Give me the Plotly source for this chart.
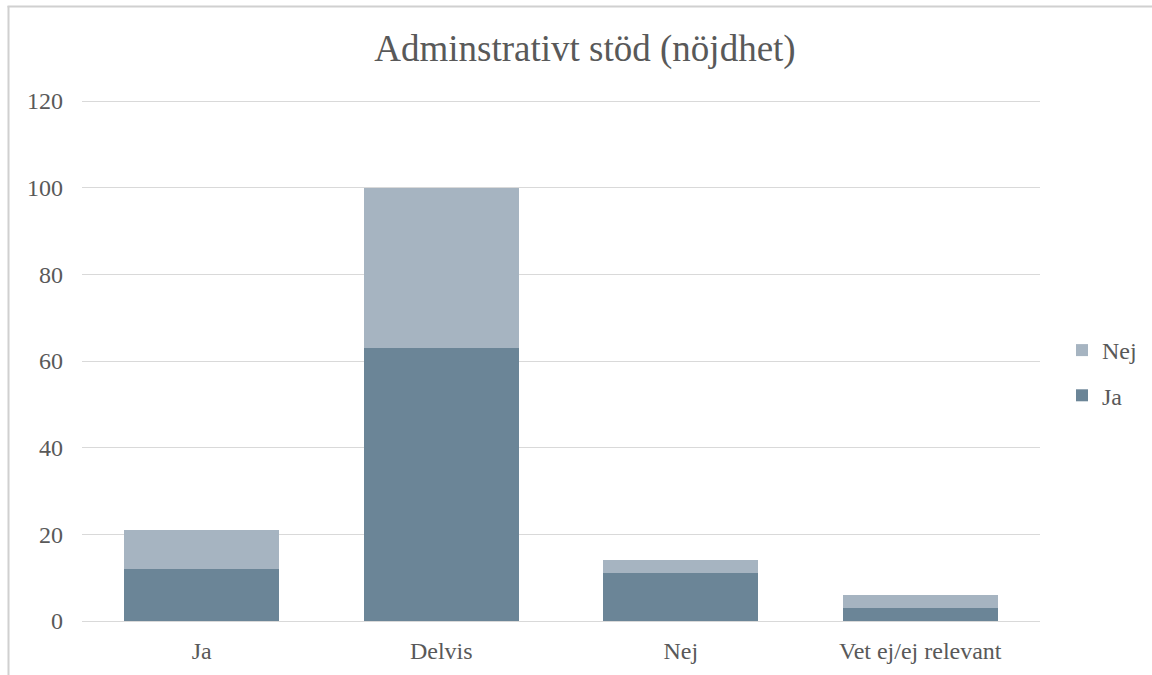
import plotly.graph_objects as go

categories = ["Ja", "Delvis", "Nej", "Vet ej/ej relevant"]
ja_values = [12, 63, 11, 3]
nej_values = [9, 37, 3, 3]
y_ticks = [0, 20, 40, 60, 80, 100, 120]

FONT = "Liberation Serif"
TXT = "#595959"
GRID = "#D9D9D9"

fig = go.Figure()
fig.add_trace(go.Bar(x=categories, y=ja_values, name="Ja", legendgroup="ja",
                     legendrank=2,
                     marker=dict(color="#6B8597", line=dict(width=0))))
fig.add_trace(go.Bar(x=categories, y=nej_values, name="Nej", legendgroup="nej",
                     legendrank=1,
                     marker=dict(color="#A6B4C1", line=dict(width=0))))

# plot area: x 82..1040, y 92..621 px (0 at 621, 120 at 101)
L, R, T, B = 82, 112, 92, 54
W = 1152 - L - R
H = 675 - T - B
PPU = 520 / 120
YTOP = H / PPU

def px_x(px):
    return (px - L) / W

def px_y(py):
    return (675 - B - py) / H

fig.update_layout(
    width=1152, height=675,
    barmode="stack",
    bargap=0.353,
    margin=dict(l=L, r=R, t=T, b=B, autoexpand=False),
    paper_bgcolor="white",
    plot_bgcolor="white",
    font=dict(family=FONT, color=TXT, size=24),
    title=dict(text="Adminstrativt stöd (nöjdhet)",
               font=dict(family=FONT, size=37, color=TXT),
               x=px_x(585), xref="paper", xanchor="center",
               y=1 - 48 / 675, yref="container", yanchor="middle"),
    xaxis=dict(showgrid=False, showline=True, linecolor=GRID, linewidth=1,
               tickfont=dict(family=FONT, size=24, color=TXT),
               ticks="", ticklabelstandoff=8),
    yaxis=dict(range=[0, YTOP], tickvals=y_ticks, showgrid=True,
               gridcolor=GRID, gridwidth=1, zeroline=True, zerolinecolor=GRID,
               zerolinewidth=1, showline=False, ticks="",
               tickfont=dict(family=FONT, size=24, color=TXT),
               ticklabelstandoff=18),
    legend=dict(x=px_x(1062), xanchor="left", y=px_y(373), yanchor="middle",
                traceorder="grouped", tracegroupgap=11,
                font=dict(family=FONT, size=24, color=TXT),
                bgcolor="rgba(0,0,0,0)", itemwidth=30),
    showlegend=True,
)

# outer chart border (left and top visible; right/bottom run off the image)
fig.add_shape(type="line", xref="paper", yref="paper", layer="above",
              x0=px_x(8.5), x1=px_x(8.5), y0=px_y(690), y1=px_y(6),
              line=dict(color="#D0D0D0", width=2))
fig.add_shape(type="line", xref="paper", yref="paper", layer="above",
              x0=px_x(7.5), x1=px_x(1165), y0=px_y(6.5), y1=px_y(6.5),
              line=dict(color="#D0D0D0", width=2))

fig.write_html("out.html", config={"displayModeBar": False})
